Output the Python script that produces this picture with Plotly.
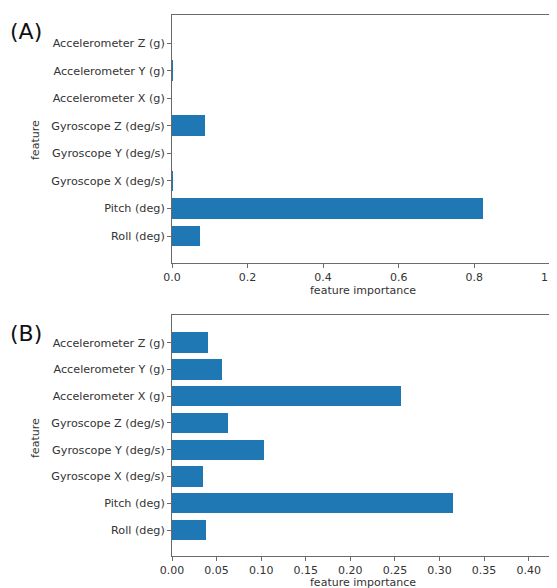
import plotly.graph_objects as go

features = ["Roll (deg)", "Pitch (deg)", "Gyroscope X (deg/s)", "Gyroscope Y (deg/s)",
            "Gyroscope Z (deg/s)", "Accelerometer X (g)", "Accelerometer Y (g)",
            "Accelerometer Z (g)"]
importance_a = [0.075, 0.824, 0.001, 0.0, 0.088, 0.0, 0.002, 0.0]
importance_b = [0.0377, 0.315, 0.0351, 0.103, 0.0632, 0.2567, 0.0557, 0.0408]
ticks_a = [0.0, 0.2, 0.4, 0.6, 0.8, 1.0]
ticks_b = [0.00, 0.05, 0.10, 0.15, 0.20, 0.25, 0.30, 0.35, 0.40]

# page body has an 8px default margin: size the figure so it fills the window
OFF = 8
W, H = 557 - OFF, 588 - OFF
BAR = "#1f77b4"
SPINE = "#6a6a6a"
TXT = "#333333"
FONT = "DejaVu Sans"


def px(x):
    return (x - OFF) / W


def py(y):
    return 1 - (y - OFF) / H


fig = go.Figure()
fig.add_trace(go.Bar(x=importance_a, y=features, orientation="h", width=0.76,
                     marker=dict(color=BAR, line=dict(width=0)),
                     xaxis="x", yaxis="y", showlegend=False))
fig.add_trace(go.Bar(x=importance_b, y=features, orientation="h", width=0.76,
                     marker=dict(color=BAR, line=dict(width=0)),
                     xaxis="x2", yaxis="y2", showlegend=False))

xdom = [px(172), min(1.0, px(555))]
ya = [py(262.7), py(15)]
yb = [py(556), py(315)]

common_x = dict(showline=True, linecolor=SPINE, linewidth=1, mirror=True,
                ticks="outside", ticklen=4, tickcolor=SPINE, showgrid=False,
                zeroline=False, automargin=False, ticklabeloverflow="allow",
                tickfont=dict(family=FONT, size=11, color=TXT))
common_y = dict(showline=True, linecolor=SPINE, linewidth=1, mirror=True,
                ticks="outside", ticklen=4, tickcolor=SPINE, showgrid=False,
                zeroline=False, automargin=False, type="category",
                categoryorder="array", categoryarray=features, range=[-0.97, 8.03],
                tickfont=dict(family=FONT, size=11.2, color=TXT))

fig.update_layout(
    width=W, height=H, margin=dict(l=0, r=0, t=0, b=0, autoexpand=False),
    paper_bgcolor="white", plot_bgcolor="white", bargap=0,
    xaxis=dict(domain=xdom, anchor="y", range=[0, 1.014], tickvals=ticks_a,
               ticktext=[f"{v:.1f}" for v in ticks_a], **common_x),
    yaxis=dict(domain=ya, anchor="x", **common_y),
    xaxis2=dict(domain=xdom, anchor="y2", range=[0, 0.4295], tickvals=ticks_b,
                ticktext=[f"{v:.2f}" for v in ticks_b], **common_x),
    yaxis2=dict(domain=yb, anchor="x2", **common_y),
)

ann_font = dict(family=FONT, size=11, color=TXT)
for (xt, yt, text, ang) in [
    (363, 291, "feature importance", 0),
    (363, 582, "feature importance", 0),
    (35, 140, "feature", -90),
    (35, 438, "feature", -90),
]:
    fig.add_annotation(x=px(xt), y=py(yt), xref="paper", yref="paper", text=text,
                       showarrow=False, textangle=ang, font=ann_font,
                       xanchor="center", yanchor="middle")

for (xt, yt, text) in [(26, 31, "(A)"), (26, 333, "(B)")]:
    fig.add_annotation(x=px(xt), y=py(yt), xref="paper", yref="paper", text=text,
                       showarrow=False, font=dict(family=FONT, size=22, color="#111111"),
                       xanchor="center", yanchor="middle")

fig.write_html("out.html")
